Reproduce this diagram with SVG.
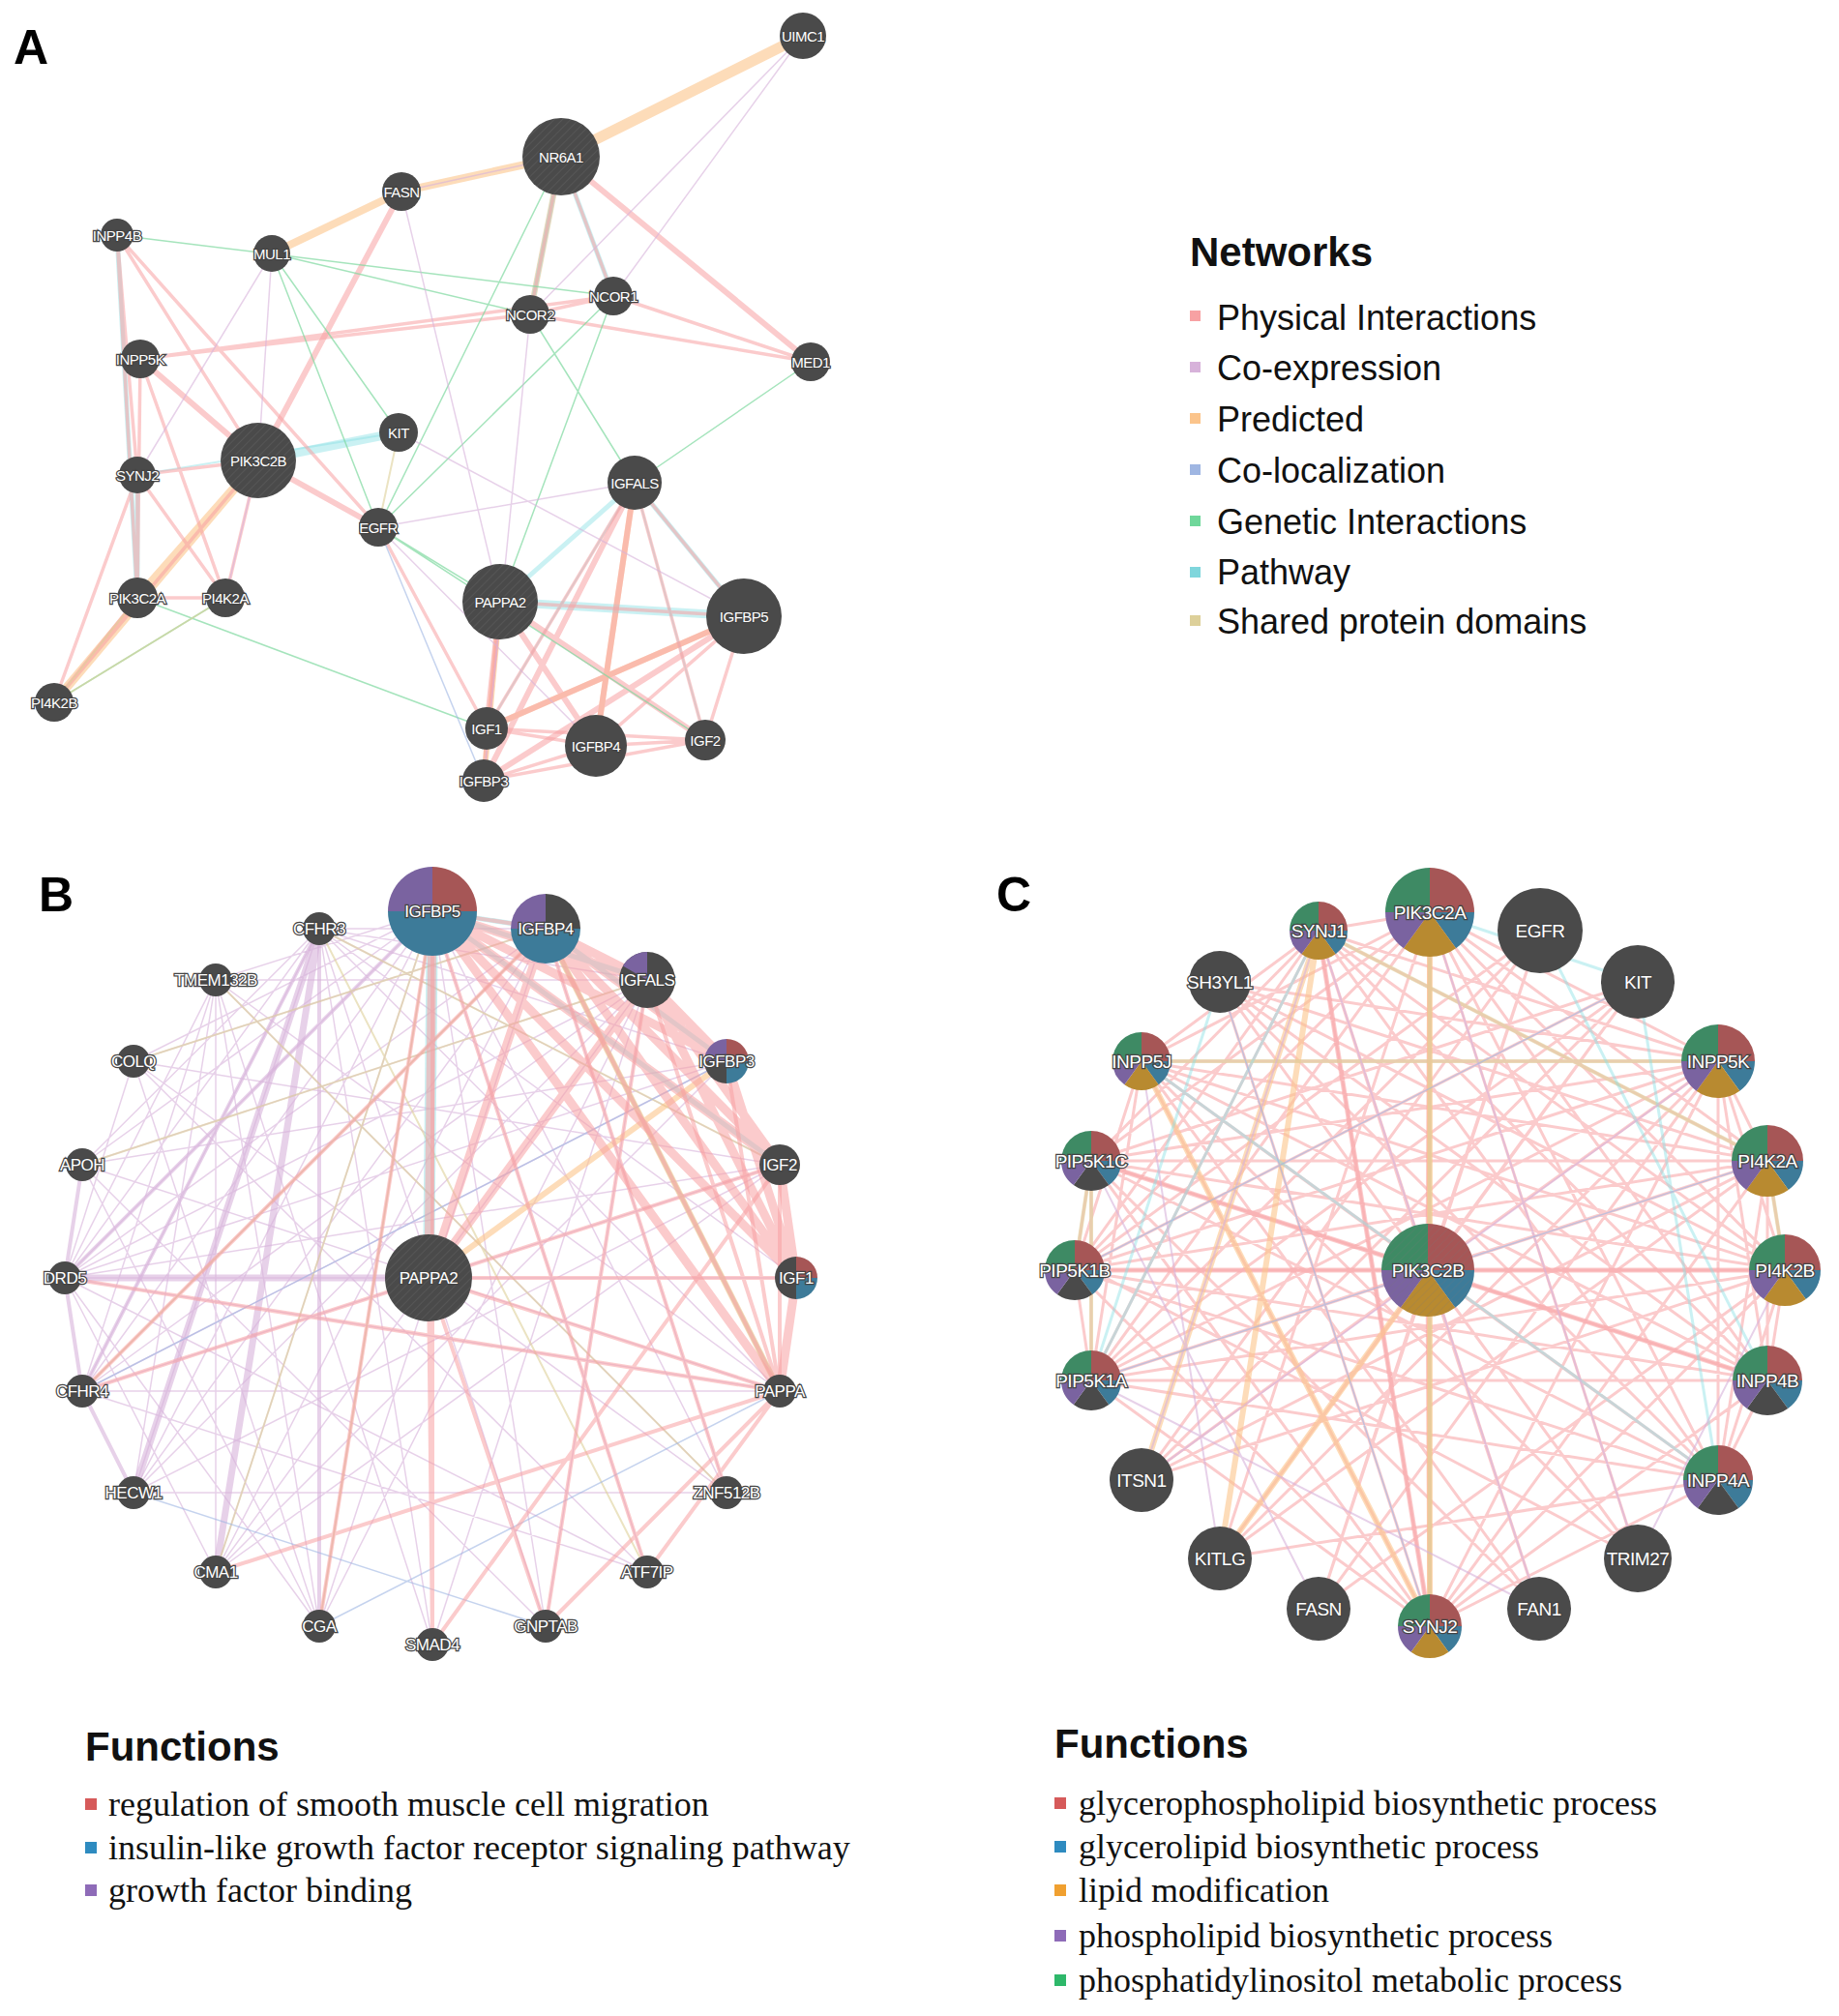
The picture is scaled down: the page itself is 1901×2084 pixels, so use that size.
<svg xmlns="http://www.w3.org/2000/svg" xmlns:xlink="http://www.w3.org/1999/xlink" width="1901" height="2084" viewBox="0 0 1901 2084">
<style>
.ph{stroke:#f7a1a3;fill:none;opacity:.55}
.ce{stroke:#d7b2da;fill:none;opacity:.6}
.pr{stroke:#fbc48b;fill:none;opacity:.6}
.cl{stroke:#9fb6e2;fill:none;opacity:.6}
.ge{stroke:#7fd9a0;fill:none;opacity:.7}
.pa{stroke:#8adfe4;fill:none;opacity:.45}
.sd{stroke:#ddd09a;fill:none;opacity:.6}
.n{fill:#4a4a4a}
.t{font-family:"Liberation Sans",Arial,sans-serif;fill:#fff;text-anchor:middle;dominant-baseline:central;stroke:#444;stroke-width:2.5;paint-order:stroke;letter-spacing:-0.5px}
.ta{font-size:15px}.tb{font-size:17px}.tc{font-size:19px}
.pl{font-family:"Liberation Sans",Arial,sans-serif;font-weight:bold;font-size:50px;fill:#000}
.h{font-family:"Liberation Sans",Arial,sans-serif;font-weight:bold;font-size:42px;fill:#111}
.lg{font-family:"Liberation Sans",Arial,sans-serif;font-size:36px;fill:#111}
.fn{font-family:"Liberation Serif","Times New Roman",serif;font-size:36px;fill:#111}
</style>
<defs>
<pattern id="hatch" width="6" height="6" patternUnits="userSpaceOnUse" patternTransform="rotate(45)"><line x1="0" y1="0" x2="0" y2="6" stroke="#777" stroke-width="1.5"/></pattern>
<g id="pie5"><path d="M0,0L0,-1A1,1 0 0 1 1,0Z" fill="#a65656"/><path d="M0,0L1,0A1,1 0 0 1 0.588,0.809Z" fill="#3d7b99"/><path d="M0,0L0.588,0.809A1,1 0 0 1 -0.588,0.809Z" fill="#b88a30"/><path d="M0,0L-0.588,0.809A1,1 0 0 1 -1,0Z" fill="#7a63a0"/><path d="M0,0L-1,0A1,1 0 0 1 0,-1Z" fill="#3e8a64"/></g>
<g id="pie5g"><path d="M0,0L0,-1A1,1 0 0 1 1,0Z" fill="#a65656"/><path d="M0,0L1,0A1,1 0 0 1 0.588,0.809Z" fill="#3d7b99"/><path d="M0,0L0.588,0.809A1,1 0 0 1 -0.588,0.809Z" fill="#4a4a4a"/><path d="M0,0L-0.588,0.809A1,1 0 0 1 -1,0Z" fill="#7a63a0"/><path d="M0,0L-1,0A1,1 0 0 1 0,-1Z" fill="#3e8a64"/></g>
<g id="pieB5"><path d="M0,0L0,-1A1,1 0 0 1 1,0Z" fill="#a65656"/><path d="M0,0L1,0A1,1 0 0 1 -1,0Z" fill="#3d7b99"/><path d="M0,0L-1,0A1,1 0 0 1 0,-1Z" fill="#7a63a0"/></g>
<g id="pieB4"><path d="M0,0L0,-1A1,1 0 0 1 1,0Z" fill="#4a4a4a"/><path d="M0,0L1,0A1,1 0 0 1 -1,0Z" fill="#3d7b99"/><path d="M0,0L-1,0A1,1 0 0 1 0,-1Z" fill="#7a63a0"/></g>
<g id="pieBA"><circle r="1" fill="#4a4a4a"/><path d="M0,0L-0.866,-0.5A1,1 0 0 1 0,-1Z" fill="#7a63a0"/></g>
<g id="pieB3"><path d="M0,0L0,-1A1,1 0 0 1 1,0Z" fill="#a65656"/><path d="M0,0L1,0A1,1 0 0 1 0,1Z" fill="#3d7b99"/><path d="M0,0L0,1A1,1 0 0 1 -1,0Z" fill="#4a4a4a"/><path d="M0,0L-1,0A1,1 0 0 1 0,-1Z" fill="#7a63a0"/></g>
<g id="pieB1"><path d="M0,0L0,-1A1,1 0 0 1 1,0Z" fill="#a65656"/><path d="M0,0L1,0A1,1 0 0 1 0,1Z" fill="#3d7b99"/><path d="M0,0L0,1A1,1 0 0 1 0,-1Z" fill="#4a4a4a"/></g>
</defs>
<rect width="1901" height="2084" fill="#fff"/>

<text class="pl" x="14" y="66">A</text>
<text class="pl" x="40" y="942">B</text>
<text class="pl" x="1030" y="942">C</text>

<g id="connectors">
<!-- Panel A -->
<path class="pr" stroke-width="11" d="M830,37L580,162"/>
<path class="pr" stroke-width="8" d="M580,162L415,198L281,262"/>
<path class="pr" stroke-width="9" d="M267,476L142,618M267,476L56,726"/>
<path class="pr" stroke-width="6" d="M517,622L500,807M580,162L548,325M656,499L616,771M769,637L503,753"/>
<path class="pa" stroke-width="9" d="M267,476L412,447M517,622L769,637"/>
<path class="pa" stroke-width="5" d="M656,499L517,622M656,499L769,637M580,162L548,325M580,162L634,306M121,243L142,618M142,491L142,618"/>
<path class="pa" stroke-width="2" d="M142,491L412,447M656,499L503,753M656,499L729,765"/>
<path class="ph" stroke-width="6" d="M415,198L267,476M580,162L838,374M267,476L391,545M145,371L267,476M517,622L616,771M517,622L729,765M517,622L503,753M769,637L503,753M769,637L500,807M656,499L500,807M656,499L616,771"/>
<path class="ph" stroke-width="3.5" d="M580,162L634,306M580,162L548,325M121,243L267,476M121,243L142,491M121,243L142,618M121,243L391,545M145,371L548,325M145,371L634,306M142,491L267,476M142,491L142,618M142,491L233,618M142,491L56,726M267,476L233,618M142,618L233,618M142,618L56,726M548,325L838,374M634,306L838,374M548,325L634,306M391,545L503,753M656,499L769,637M769,637L616,771M769,637L729,765M503,753L616,771M503,753L729,765M500,807L616,771M500,807L729,765M616,771L729,765M517,622L500,807M503,753L500,807M656,499L503,753M656,499L729,765M517,622L769,637M145,371L142,618M145,371L233,618M267,476L56,726"/>
<path class="ge" stroke-width="1.5" d="M121,243L634,306M281,262L391,545M281,262L412,447M580,162L391,545M548,325L656,499M634,306L391,545M838,374L656,499M142,618L503,753M391,545L517,622M634,306L517,622M281,262L548,325M391,545L729,765M56,726L233,618"/>
<path class="ce" stroke-width="1.5" d="M415,198L580,162M830,37L634,306M830,37L548,325M281,262L267,476M415,198L517,622M391,545L656,499M412,447L769,637M281,262L142,491M548,325L500,807M233,618L267,476M391,545L616,771"/>
<path class="cl" stroke-width="1.5" d="M391,545L500,807"/>
<path class="sd" stroke-width="2" d="M412,447L391,545M233,618L56,726M142,618L56,726"/>

<!-- Panel B -->
<path class="ce" stroke-width="1.5" d="M67,1321L447,942M67,1321L564,960M67,1321L669,1013M67,1321L751,1097M67,1321L806,1204M67,1321L823,1321M67,1321L806,1438M67,1321L330,960M67,1321L223,1013M67,1321L138,1097M67,1321L330,1681M67,1321L223,1625M67,1321L669,1625M85,1438L447,942M85,1438L564,960M85,1438L669,1013M85,1438L330,960M85,1438L806,1438M85,1438L751,1097M85,1438L223,1013M85,1438L806,1204M138,1543L447,942M138,1543L330,960M138,1543L564,960M138,1543L806,1204M138,1543L669,1013M223,1625L447,942M223,1625L564,960M223,1625L669,1013M223,1625L751,1097M330,1681L447,942M330,1681L564,960M330,1681L669,1013M330,1681L223,1013M330,1681L138,1097M330,1681L85,1204M85,1204L447,942M85,1204L669,1013M85,1204L751,1097M85,1204L806,1438M138,1097L447,942M138,1097L564,960M138,1097L806,1204M138,1097L751,1543M223,1013L447,942M223,1013L669,1013M223,1013L806,1438M223,1013L751,1543M330,960L564,960M330,960L669,1013M330,960L751,1097M330,960L806,1204M330,960L823,1321M330,960L806,1438M330,960L564,1681M330,960L447,1700M447,1700L669,1013M564,1681L669,1013M669,1625L447,942M751,1543L447,942M751,1543L564,960M564,1681L447,942M138,1543L751,1543M85,1438L669,1625M223,1625L806,1204M138,1097L669,1625M85,1204L564,1681M223,1013L447,1700M138,1097L330,1681M223,1013L223,1625M85,1204L330,960M138,1543L223,1013"/>
<path class="ce" stroke-width="7" d="M67,1321L443,1321M330,960L223,1625M330,960L138,1543"/>
<path class="ce" stroke-width="4" d="M67,1321L85,1438M67,1321L85,1204M85,1438L138,1543M67,1321L447,942M85,1438L330,960M330,960L330,1681"/>
<path class="sd" stroke-width="2" d="M330,960L806,1204M85,1204L669,1013M138,1097L564,960M330,1681L447,942M669,1625L330,960M447,942L223,1625M564,960L85,1438M751,1543L223,1013"/>
<path class="cl" stroke-width="1.5" d="M330,1681L806,1438M564,1681L138,1543M85,1438L751,1097"/>
<path class="pa" stroke-width="12" d="M447,942L443,1321"/>
<path class="pa" stroke-width="5" d="M447,942L564,960M447,942L669,1013M564,960L751,1097M447,942L806,1204M564,960L806,1438"/>
<path class="pr" stroke-width="6" d="M751,1097L443,1321M564,960L806,1438"/>
<path class="ph" stroke-width="9" d="M447,942L669,1013M447,942L751,1097M447,942L806,1204M447,942L823,1321M447,942L806,1438M564,960L669,1013M564,960L751,1097M564,960L806,1204M564,960L823,1321M669,1013L751,1097M669,1013L806,1204M669,1013L823,1321M751,1097L823,1321M806,1204L823,1321M823,1321L806,1438M564,960L443,1321M669,1013L443,1321M447,942L443,1321"/>
<path class="ph" stroke-width="4" d="M447,942L564,960M564,960L806,1438M669,1013L806,1438M751,1097L806,1438M806,1204L806,1438M443,1321L806,1438M443,1321L447,1700M443,1321L564,1681M443,1321L823,1321M447,942L447,1700M806,1438L564,1681M806,1438L669,1625M564,960L751,1543M447,942L669,1625M669,1013L564,1681M447,1700L806,1204M67,1321L806,1438M447,942L330,1681M85,1438L806,1204M223,1625L806,1438M564,960L85,1438"/>

<!-- Panel C -->
<path class="ph" stroke-width="3" d="M1476,1313L1478,943M1476,1313L1592,962M1476,1313L1693,1015M1476,1313L1776,1097M1476,1313L1827,1200M1476,1313L1845,1313M1476,1313L1827,1427M1476,1313L1776,1530M1476,1313L1693,1611M1476,1313L1591,1663M1476,1313L1478,1681M1476,1313L1363,1663M1476,1313L1261,1611M1476,1313L1180,1530M1476,1313L1128,1427M1476,1313L1111,1313M1476,1313L1128,1200M1476,1313L1180,1097M1476,1313L1261,1015M1476,1313L1363,962
M1478,943L1776,1097M1478,943L1827,1200M1478,943L1845,1313M1478,943L1827,1427M1478,943L1776,1530M1478,943L1478,1681M1478,943L1128,1427M1478,943L1111,1313M1478,943L1128,1200M1478,943L1180,1097M1478,943L1363,962M1478,943L1261,1611M1478,943L1693,1611
M1363,962L1776,1097M1363,962L1827,1200M1363,962L1845,1313M1363,962L1827,1427M1363,962L1776,1530M1363,962L1478,1681M1363,962L1128,1427M1363,962L1111,1313M1363,962L1128,1200M1363,962L1180,1097M1363,962L1591,1663
M1180,1097L1776,1097M1180,1097L1827,1200M1180,1097L1845,1313M1180,1097L1827,1427M1180,1097L1776,1530M1180,1097L1478,1681M1180,1097L1128,1427M1180,1097L1111,1313M1180,1097L1693,1611
M1128,1200L1776,1097M1128,1200L1827,1200M1128,1200L1845,1313M1128,1200L1827,1427M1128,1200L1776,1530M1128,1200L1478,1681M1128,1200L1111,1313M1128,1200L1128,1427M1128,1200L1693,1015
M1111,1313L1776,1097M1111,1313L1827,1200M1111,1313L1845,1313M1111,1313L1827,1427M1111,1313L1776,1530M1111,1313L1478,1681M1111,1313L1128,1427M1111,1313L1592,962
M1128,1427L1776,1097M1128,1427L1827,1200M1128,1427L1845,1313M1128,1427L1827,1427M1128,1427L1776,1530M1128,1427L1478,1681M1128,1427L1693,1015
M1776,1097L1827,1200M1776,1097L1845,1313M1776,1097L1827,1427M1776,1097L1776,1530M1776,1097L1478,1681M1776,1097L1261,1611M1776,1097L1363,1663
M1827,1200L1845,1313M1827,1200L1827,1427M1827,1200L1776,1530M1827,1200L1478,1681M1827,1200L1180,1530
M1845,1313L1827,1427M1845,1313L1776,1530M1845,1313L1478,1681M1845,1313L1261,1015
M1827,1427L1776,1530M1827,1427L1478,1681M1827,1427L1261,1015M1776,1530L1478,1681M1776,1530L1261,1015
M1693,1015L1180,1530M1693,1015L1261,1611M1592,962L1363,1663M1592,962L1180,1530M1693,1611L1180,1097M1591,1663L1128,1200M1261,1611L1827,1200M1363,1663L1845,1313
M1261,1015L1776,1097M1261,1015L1827,1200M1261,1015L1478,1681M1180,1530L1845,1313M1261,1611L1776,1530M1363,1663L1776,1097M1591,1663L1180,1097M1693,1611L1128,1313M1592,962L1128,1427M1693,1015L1111,1313"/>
<path class="ph" stroke-width="5" d="M1478,943L1476,1313M1476,1313L1478,1681M1111,1313L1845,1313M1363,962L1478,1681M1128,1200L1827,1427"/>
<path class="pr" stroke-width="6" d="M1478,943L1478,1681M1363,962L1261,1611M1180,1097L1478,1681M1363,962L1180,1530M1476,1313L1261,1611"/>
<path class="sd" stroke-width="4" d="M1180,1097L1776,1097M1128,1200L1128,1427M1111,1313L1128,1200M1827,1200L1845,1313M1478,943L1478,1681M1363,962L1827,1200"/>
<path class="pa" stroke-width="3" d="M1693,1015L1776,1530M1592,962L1827,1427M1363,962L1128,1427M1180,1097L1776,1530M1478,943L1693,1015M1261,1015L1128,1427"/>
<path class="ce" stroke-width="2" d="M1180,1530L1363,962M1261,1611L1180,1097M1363,1663L1128,1200M1591,1663L1363,962M1693,1611L1478,943M1180,1530L1776,1097M1128,1427L1591,1663M1693,1611L1845,1313"/>
<path class="cl" stroke-width="1.5" d="M1111,1313L1693,1015M1128,1427L1827,1200M1261,1015L1478,1681"/>
</g>

<!-- Panel A nodes -->
<g id="A-UIMC1"><circle class="n" cx="830" cy="37" r="24"/><text class="t ta" x="830" y="37">UIMC1</text></g>
<g id="A-NR6A1"><circle class="n" cx="580" cy="162" r="40"/><circle cx="580" cy="162" r="40" fill="url(#hatch)" opacity=".35"/><text class="t ta" x="580" y="162">NR6A1</text></g>
<g id="A-FASN"><circle class="n" cx="415" cy="198" r="20"/><text class="t ta" x="415" y="198">FASN</text></g>
<g id="A-INPP4B"><circle class="n" cx="121" cy="243" r="17"/><text class="t ta" x="121" y="243">INPP4B</text></g>
<g id="A-MUL1"><circle class="n" cx="281" cy="262" r="19"/><text class="t ta" x="281" y="262">MUL1</text></g>
<g id="A-NCOR2"><circle class="n" cx="548" cy="325" r="20"/><text class="t ta" x="548" y="325">NCOR2</text></g>
<g id="A-NCOR1"><circle class="n" cx="634" cy="306" r="20"/><text class="t ta" x="634" y="306">NCOR1</text></g>
<g id="A-MED1"><circle class="n" cx="838" cy="374" r="20"/><text class="t ta" x="838" y="374">MED1</text></g>
<g id="A-INPP5K"><circle class="n" cx="145" cy="371" r="20"/><text class="t ta" x="145" y="371">INPP5K</text></g>
<g id="A-KIT"><circle class="n" cx="412" cy="447" r="20"/><text class="t ta" x="412" y="447">KIT</text></g>
<g id="A-PIK3C2B"><circle class="n" cx="267" cy="476" r="39"/><circle cx="267" cy="476" r="39" fill="url(#hatch)" opacity=".35"/><text class="t ta" x="267" y="476">PIK3C2B</text></g>
<g id="A-SYNJ2"><circle class="n" cx="142" cy="491" r="19"/><text class="t ta" x="142" y="491">SYNJ2</text></g>
<g id="A-IGFALS"><circle class="n" cx="656" cy="499" r="28"/><text class="t ta" x="656" y="499">IGFALS</text></g>
<g id="A-EGFR"><circle class="n" cx="391" cy="545" r="20"/><text class="t ta" x="391" y="545">EGFR</text></g>
<g id="A-PAPPA2"><circle class="n" cx="517" cy="622" r="39"/><circle cx="517" cy="622" r="39" fill="url(#hatch)" opacity=".35"/><text class="t ta" x="517" y="622">PAPPA2</text></g>
<g id="A-IGFBP5"><circle class="n" cx="769" cy="637" r="39"/><text class="t ta" x="769" y="637">IGFBP5</text></g>
<g id="A-IGF1"><circle class="n" cx="503" cy="753" r="22"/><text class="t ta" x="503" y="753">IGF1</text></g>
<g id="A-IGFBP4"><circle class="n" cx="616" cy="771" r="32"/><text class="t ta" x="616" y="771">IGFBP4</text></g>
<g id="A-IGF2"><circle class="n" cx="729" cy="765" r="21"/><text class="t ta" x="729" y="765">IGF2</text></g>
<g id="A-IGFBP3"><circle class="n" cx="500" cy="807" r="22"/><text class="t ta" x="500" y="807">IGFBP3</text></g>
<g id="A-PIK3C2A"><circle class="n" cx="142" cy="618" r="21"/><text class="t ta" x="142" y="618">PIK3C2A</text></g>
<g id="A-PI4K2A"><circle class="n" cx="233" cy="618" r="20"/><text class="t ta" x="233" y="618">PI4K2A</text></g>
<g id="A-PI4K2B"><circle class="n" cx="56" cy="726" r="20"/><text class="t ta" x="56" y="726">PI4K2B</text></g>

<!-- Networks legend -->
<g id="legend-networks">
<text class="h" x="1230" y="275">Networks</text>
<rect x="1230" y="321" width="11" height="11" fill="#f7a1a3"/><text class="lg" x="1258" y="341">Physical Interactions</text>
<rect x="1230" y="374" width="11" height="11" fill="#d7b2da"/><text class="lg" x="1258" y="393">Co-expression</text>
<rect x="1230" y="427" width="11" height="11" fill="#fbc48b"/><text class="lg" x="1258" y="446">Predicted</text>
<rect x="1230" y="480" width="11" height="11" fill="#9fb6e2"/><text class="lg" x="1258" y="499">Co-localization</text>
<rect x="1230" y="533" width="11" height="11" fill="#6fd79a"/><text class="lg" x="1258" y="552">Genetic Interactions</text>
<rect x="1230" y="586" width="11" height="11" fill="#7fd6dc"/><text class="lg" x="1258" y="604">Pathway</text>
<rect x="1230" y="636" width="11" height="11" fill="#ddd09a"/><text class="lg" x="1258" y="655">Shared protein domains</text>
</g>

<!-- Panel B nodes -->
<g id="B-PAPPA2"><circle class="n" cx="443" cy="1321" r="45"/><circle cx="443" cy="1321" r="45" fill="url(#hatch)" opacity=".35"/><text class="t tb" x="443" y="1321">PAPPA2</text></g>
<g id="B-IGFBP5"><use xlink:href="#pieB5" transform="translate(447,942) scale(46)"/><text class="t tb" x="447" y="942">IGFBP5</text></g>
<g id="B-IGFBP4"><use xlink:href="#pieB4" transform="translate(564,960) scale(36)"/><text class="t tb" x="564" y="960">IGFBP4</text></g>
<g id="B-IGFALS"><use xlink:href="#pieBA" transform="translate(669,1013) scale(29)"/><text class="t tb" x="669" y="1013">IGFALS</text></g>
<g id="B-IGFBP3"><use xlink:href="#pieB3" transform="translate(751,1097) scale(23)"/><text class="t tb" x="751" y="1097">IGFBP3</text></g>
<g id="B-IGF2"><circle class="n" cx="806" cy="1204" r="21"/><text class="t tb" x="806" y="1204">IGF2</text></g>
<g id="B-IGF1"><use xlink:href="#pieB1" transform="translate(823,1321) scale(22)"/><text class="t tb" x="823" y="1321">IGF1</text></g>
<g id="B-PAPPA"><circle class="n" cx="806" cy="1438" r="17"/><text class="t tb" x="806" y="1438">PAPPA</text></g>
<g id="B-ZNF512B"><circle class="n" cx="751" cy="1543" r="17"/><text class="t tb" x="751" y="1543">ZNF512B</text></g>
<g id="B-ATF7IP"><circle class="n" cx="669" cy="1625" r="17"/><text class="t tb" x="669" y="1625">ATF7IP</text></g>
<g id="B-GNPTAB"><circle class="n" cx="564" cy="1681" r="17"/><text class="t tb" x="564" y="1681">GNPTAB</text></g>
<g id="B-SMAD4"><circle class="n" cx="447" cy="1700" r="17"/><text class="t tb" x="447" y="1700">SMAD4</text></g>
<g id="B-CGA"><circle class="n" cx="330" cy="1681" r="17"/><text class="t tb" x="330" y="1681">CGA</text></g>
<g id="B-CMA1"><circle class="n" cx="223" cy="1625" r="17"/><text class="t tb" x="223" y="1625">CMA1</text></g>
<g id="B-HECW1"><circle class="n" cx="138" cy="1543" r="17"/><text class="t tb" x="138" y="1543">HECW1</text></g>
<g id="B-CFHR4"><circle class="n" cx="85" cy="1438" r="17"/><text class="t tb" x="85" y="1438">CFHR4</text></g>
<g id="B-DRD5"><circle class="n" cx="67" cy="1321" r="17"/><text class="t tb" x="67" y="1321">DRD5</text></g>
<g id="B-APOH"><circle class="n" cx="85" cy="1204" r="17"/><text class="t tb" x="85" y="1204">APOH</text></g>
<g id="B-COLQ"><circle class="n" cx="138" cy="1097" r="17"/><text class="t tb" x="138" y="1097">COLQ</text></g>
<g id="B-TMEM132B"><circle class="n" cx="223" cy="1013" r="17"/><text class="t tb" x="223" y="1013">TMEM132B</text></g>
<g id="B-CFHR3"><circle class="n" cx="330" cy="960" r="17"/><text class="t tb" x="330" y="960">CFHR3</text></g>

<!-- Panel C nodes -->
<g id="C-PIK3C2B"><use xlink:href="#pie5" transform="translate(1476,1313) scale(48)"/><circle cx="1476" cy="1313" r="48" fill="url(#hatch)" opacity=".25"/><text class="t tc" x="1476" y="1313">PIK3C2B</text></g>
<g id="C-PIK3C2A"><use xlink:href="#pie5" transform="translate(1478,943) scale(46)"/><text class="t tc" x="1478" y="943">PIK3C2A</text></g>
<g id="C-EGFR"><circle class="n" cx="1592" cy="962" r="44"/><text class="t tc" x="1592" y="962">EGFR</text></g>
<g id="C-KIT"><circle class="n" cx="1693" cy="1015" r="38"/><text class="t tc" x="1693" y="1015">KIT</text></g>
<g id="C-INPP5K"><use xlink:href="#pie5" transform="translate(1776,1097) scale(38)"/><text class="t tc" x="1776" y="1097">INPP5K</text></g>
<g id="C-PI4K2A"><use xlink:href="#pie5" transform="translate(1827,1200) scale(37)"/><text class="t tc" x="1827" y="1200">PI4K2A</text></g>
<g id="C-PI4K2B"><use xlink:href="#pie5" transform="translate(1845,1313) scale(37)"/><text class="t tc" x="1845" y="1313">PI4K2B</text></g>
<g id="C-INPP4B"><use xlink:href="#pie5g" transform="translate(1827,1427) scale(36)"/><text class="t tc" x="1827" y="1427">INPP4B</text></g>
<g id="C-INPP4A"><use xlink:href="#pie5g" transform="translate(1776,1530) scale(36)"/><text class="t tc" x="1776" y="1530">INPP4A</text></g>
<g id="C-TRIM27"><circle class="n" cx="1693" cy="1611" r="35"/><text class="t tc" x="1693" y="1611">TRIM27</text></g>
<g id="C-FAN1"><circle class="n" cx="1591" cy="1663" r="33"/><text class="t tc" x="1591" y="1663">FAN1</text></g>
<g id="C-SYNJ2"><use xlink:href="#pie5" transform="translate(1478,1681) scale(33)"/><text class="t tc" x="1478" y="1681">SYNJ2</text></g>
<g id="C-FASN"><circle class="n" cx="1363" cy="1663" r="33"/><text class="t tc" x="1363" y="1663">FASN</text></g>
<g id="C-KITLG"><circle class="n" cx="1261" cy="1611" r="33"/><text class="t tc" x="1261" y="1611">KITLG</text></g>
<g id="C-ITSN1"><circle class="n" cx="1180" cy="1530" r="33"/><text class="t tc" x="1180" y="1530">ITSN1</text></g>
<g id="C-PIP5K1A"><use xlink:href="#pie5g" transform="translate(1128,1427) scale(31)"/><text class="t tc" x="1128" y="1427">PIP5K1A</text></g>
<g id="C-PIP5K1B"><use xlink:href="#pie5g" transform="translate(1111,1313) scale(31)"/><text class="t tc" x="1111" y="1313">PIP5K1B</text></g>
<g id="C-PIP5K1C"><use xlink:href="#pie5g" transform="translate(1128,1200) scale(31)"/><text class="t tc" x="1128" y="1200">PIP5K1C</text></g>
<g id="C-INPP5J"><use xlink:href="#pie5" transform="translate(1180,1097) scale(30)"/><text class="t tc" x="1180" y="1097">INPP5J</text></g>
<g id="C-SH3YL1"><circle class="n" cx="1261" cy="1015" r="32"/><text class="t tc" x="1261" y="1015">SH3YL1</text></g>
<g id="C-SYNJ1"><use xlink:href="#pie5" transform="translate(1363,962) scale(30)"/><text class="t tc" x="1363" y="962">SYNJ1</text></g>

<!-- Functions legends -->
<g id="legend-functions-B">
<text class="h" x="88" y="1820">Functions</text>
<rect x="88" y="1859" width="12" height="12" fill="#d65a5a"/><text class="fn" x="112" y="1877">regulation of smooth muscle cell migration</text>
<rect x="88" y="1904" width="12" height="12" fill="#2e8bc0"/><text class="fn" x="112" y="1922">insulin-like growth factor receptor signaling pathway</text>
<rect x="88" y="1948" width="12" height="12" fill="#8e6bb8"/><text class="fn" x="112" y="1966">growth factor binding</text>
</g>
<g id="legend-functions-C">
<text class="h" x="1090" y="1817">Functions</text>
<rect x="1090" y="1858" width="12" height="12" fill="#d65a5a"/><text class="fn" x="1115" y="1876">glycerophospholipid biosynthetic process</text>
<rect x="1090" y="1903" width="12" height="12" fill="#2e8bc0"/><text class="fn" x="1115" y="1921">glycerolipid biosynthetic process</text>
<rect x="1090" y="1948" width="12" height="12" fill="#f0a030"/><text class="fn" x="1115" y="1966">lipid modification</text>
<rect x="1090" y="1995" width="12" height="12" fill="#8e6bb8"/><text class="fn" x="1115" y="2013">phospholipid biosynthetic process</text>
<rect x="1090" y="2041" width="12" height="12" fill="#2eb86a"/><text class="fn" x="1115" y="2059">phosphatidylinositol metabolic process</text>
</g>
</svg>
